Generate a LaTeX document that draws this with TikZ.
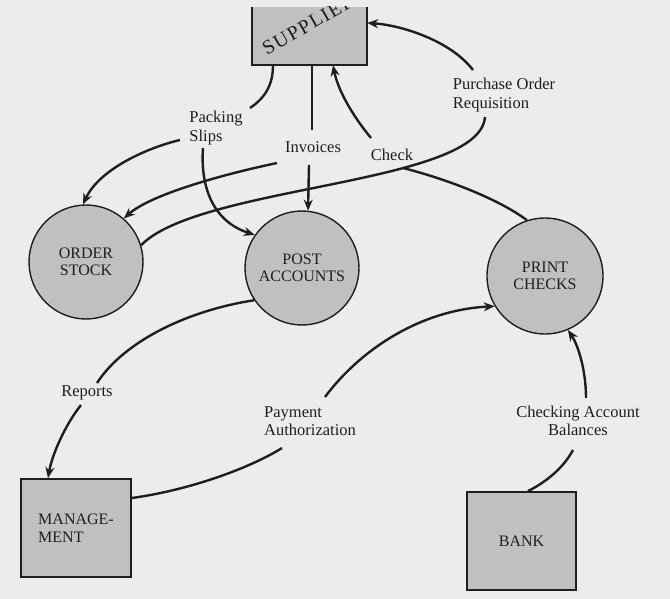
\documentclass[tikz,border=0pt]{standalone}
\usepackage{fontspec}
\setmainfont{Liberation Serif}
\usetikzlibrary{arrows.meta}
\definecolor{paper}{RGB}{236,236,234}
\definecolor{stip}{RGB}{192,192,192}
\definecolor{ink}{RGB}{30,30,30}
\begin{document}
\begin{tikzpicture}[x=1pt,y=-1pt,
  txt/.style={font=\fontsize{16.5}{18.5}\selectfont, text=ink},
  lbl/.style={txt, inner sep=0pt},
  proc/.style={circle, draw=ink, line width=1.4pt, fill=stip, inner sep=0pt,
    minimum size=114pt, align=center, txt, font=\fontsize{16}{17.5}\selectfont},
  term/.style={rectangle, draw=ink, line width=1.8pt, fill=stip, inner sep=0pt, txt,
    font=\fontsize{16}{17.5}\selectfont},
  flow/.style={draw=ink, line width=2.4pt},
  arr/.style={flow, -{Stealth[length=11pt,width=9pt]}},
]
% paper
\fill[paper] (0,0) rectangle (670,599);

% external entities
\node[rectangle, fill=stip, draw=none, minimum width=115pt, minimum height=58pt, inner sep=0pt]
  (supplier) at (309.5,36) {};
\begin{scope}
  \clip (supplier.north west) rectangle (supplier.south east);
  \node[txt, font=\fontsize{20}{22}\selectfont, rotate=30, anchor=base west, inner sep=0pt]
    (suppliertext) at (267,56)
    {S\kern1.5pt U\kern1.5pt P\kern1.5pt P\kern1.5pt L\kern1.5pt I\kern1.5pt E\kern1.5pt R};
\end{scope}
\draw[ink, line width=1.8pt] (supplier.north west) |- (supplier.south east) -- (supplier.north east);

\node[term, minimum width=110pt, minimum height=98pt, align=left] (management) at (76,528) {MANAGE-\\MENT};
\node[term, minimum width=109pt, minimum height=98pt] (bank) at (521.5,541) {BANK};

% processes
\node[proc] (order) at (86,262) {ORDER\\STOCK};
\node[proc] (post) at (302,268) {POST\\ACCOUNTS};
\node[proc, minimum size=116pt] (print) at (545,276) {PRINT\\CHECKS};

% flow labels
\node[lbl, align=left] (packing) at (216,128) {Packing\\Slips};
\node[lbl] (invoices) at (313,147) {Invoices};
\node[lbl] (check) at (392,155) {Check};
\node[lbl, align=left] (purchase) at (504,95) {Purchase Order\\Requisition};
\node[lbl] (reports) at (87,393) {Reports};
\node[lbl, align=left] (payment) at (310,421) {Payment\\Authorization};
\node[lbl, align=center] (checking) at (578,421) {Checking Account\\Balances};

% break points of the flows around their labels
\coordinate (psA) at (250,108);
\coordinate (psL) at (180,140);
\coordinate (psD) at (203,148);
\coordinate (invA) at (312,130);
\coordinate (invL) at (277,163);
\coordinate (invD) at (309,165);
\coordinate (chkA) at (371,138);
\coordinate (chkB) at (403,168);
\coordinate (poA) at (473,70);
\coordinate (poB) at (485,117);
\coordinate (repA) at (97,383);
\coordinate (repB) at (81,405);
\coordinate (payA) at (282,448);
\coordinate (payB) at (325,397);
\coordinate (cabA) at (573,450);
\coordinate (cabB) at (586,398);

% packing slips
\draw[flow] ([xshift=-36.5pt]supplier.south) .. controls (273,85) and (265,98) .. (psA);
\draw[arr] (psL) .. controls (150,147) and (100,168) .. (order.93);
\draw[arr] (psD) .. controls (200,190) and (215,222) .. (post.145);

% invoices
\draw[flow] ([xshift=2.5pt]supplier.south) -- (invA);
\draw[arr] (invL) .. controls (220,175) and (150,195) .. (order.49);
\draw[arr] (invD) -- (post.84);

% check
\draw[flow] (print.108) .. controls (500,200) and (450,180) .. (chkB);
\draw[arr] (chkA) .. controls (352,115) and (338,90) .. ([xshift=23.5pt]supplier.south);

% purchase order requisition
\draw[flow] (order.17) .. controls (200,185) and (480,185) .. (poB);
\draw[arr] (poA) .. controls (450,40) and (400,25) .. ([yshift=13pt]supplier.east);

% reports
\draw[flow] (post.214) .. controls (190,310) and (125,340) .. (repA);
\draw[arr] (repB) .. controls (65,425) and (52,455) .. ([xshift=-28pt]management.north);

% payment authorization
\draw[flow] ([yshift=30pt]management.east) .. controls (190,490) and (250,468) .. (payA);
\draw[arr] (payB) .. controls (360,350) and (420,310) .. (print.211);

% checking account balances
\draw[flow] ([xshift=6.5pt]bank.north) .. controls (550,480) and (565,465) .. (cabA);
\draw[arr] (cabB) .. controls (586,370) and (578,345) .. (print.293);
\end{tikzpicture}
\end{document}
